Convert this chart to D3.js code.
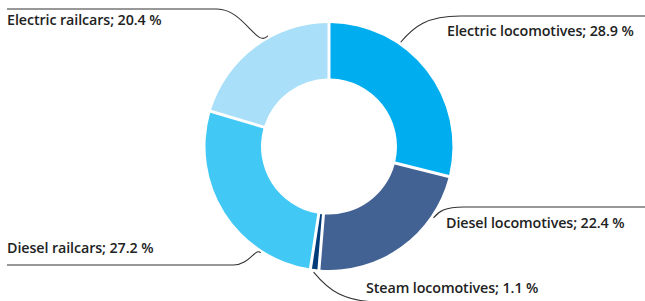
<!DOCTYPE html>
<html>
<head>
<meta charset="utf-8">
<script src="https://cdn.jsdelivr.net/npm/d3@7"></script>
<style>
  body { margin: 0; background: #fff; }
  svg text { font-family: "Open Sans", sans-serif; font-weight: 600; font-size: 14.3px; fill: #222; letter-spacing: -0.1px; }
</style>
</head>
<body>
<div id="chart"></div>
<script>
// fleet share by type of traction (clockwise from the top)
var categories = ["Electric locomotives", "Diesel locomotives", "Steam locomotives", "Diesel railcars", "Electric railcars"];
var shares = [28.9, 22.4, 1.1, 27.2, 20.4];
var labels = ["Electric locomotives; 28.9 %", "Diesel locomotives; 22.4 %", "Steam locomotives; 1.1 %", "Diesel railcars; 27.2 %", "Electric railcars; 20.4 %"];

var colors = ["#00aeef", "#436294", "#003b7a", "#41c8f5", "#a9dff9"];

// where each callout sits: angle (deg) of the leader start, y of the rule, text x/baseline, side
var callouts = [
  {angle: 34.5, lineY: 16, textX: 447, textY: 36, side: "right"},
  {angle: 124.3, lineY: 207, textX: 446, textY: 228, side: "right"},
  {angle: 187, lineY: 302, textX: 366, textY: 293, side: "right"},
  {angle: 212.7, lineY: 265, textX: 7, textY: 253, side: "left"},
  {angle: 331.1, lineY: 9, textX: 7, textY: 25, side: "left"}
];

var width = 645, height = 301;
var cx = 329, cy = 146.5;
var outerR = 123.5, innerR = 68;

var svg = d3.select("#chart")
  .append("svg")
    .attr("width", width)
    .attr("height", height);

var data = categories.map(function(c, i) {
  return {name: c, value: shares[i], label: labels[i], color: colors[i], callout: callouts[i]};
});

var pie = d3.pie()
  .sort(null)
  .value(function(d) { return d.value; });

var arc = d3.arc()
  .innerRadius(innerR)
  .outerRadius(outerR)
  .padAngle(0.03)
  .padRadius(100);

var g = svg.append("g")
  .attr("transform", "translate(" + cx + "," + cy + ")");

g.selectAll("path")
  .data(pie(data))
  .enter()
  .append("path")
    .attr("d", arc)
    .attr("fill", function(d) { return d.data.color; });

// leader lines
var leaderR = outerR + 3;
svg.selectAll(".leader")
  .data(data)
  .enter()
  .append("path")
    .attr("class", "leader")
    .attr("fill", "none")
    .attr("stroke", "#333")
    .attr("stroke-width", 1.1)
    .attr("d", function(d) {
      var a = d.callout.angle * Math.PI / 180;
      var x0 = cx + leaderR * Math.sin(a);
      var y0 = cy - leaderR * Math.cos(a);
      var y1 = d.callout.lineY;
      var dy = y1 - y0;
      var p = d3.path();
      if (d.callout.side === "right") {
        var xk = x0 + Math.abs(dy) * 1.9 + 10;
        p.moveTo(x0, y0);
        p.bezierCurveTo(x0 + Math.abs(dy) * 0.5, y0 + dy * 0.6, x0 + Math.abs(dy) * 1.0, y1, xk, y1);
        p.lineTo(width, y1);
      } else {
        var xk2 = x0 - Math.abs(dy) * 1.6 - 8;
        p.moveTo(7, y1);
        p.lineTo(xk2, y1);
        p.bezierCurveTo(x0 - Math.abs(dy) * 0.9, y1, x0 - Math.abs(dy) * 0.4, y0 - dy * 0.5, x0, y0);
      }
      return p.toString();
    });

svg.selectAll(".label")
  .data(data)
  .enter()
  .append("text")
    .attr("class", "label")
    .attr("x", function(d) { return d.callout.textX; })
    .attr("y", function(d) { return d.callout.textY; })
    .text(function(d) { return d.label; });
</script>
</body>
</html>
